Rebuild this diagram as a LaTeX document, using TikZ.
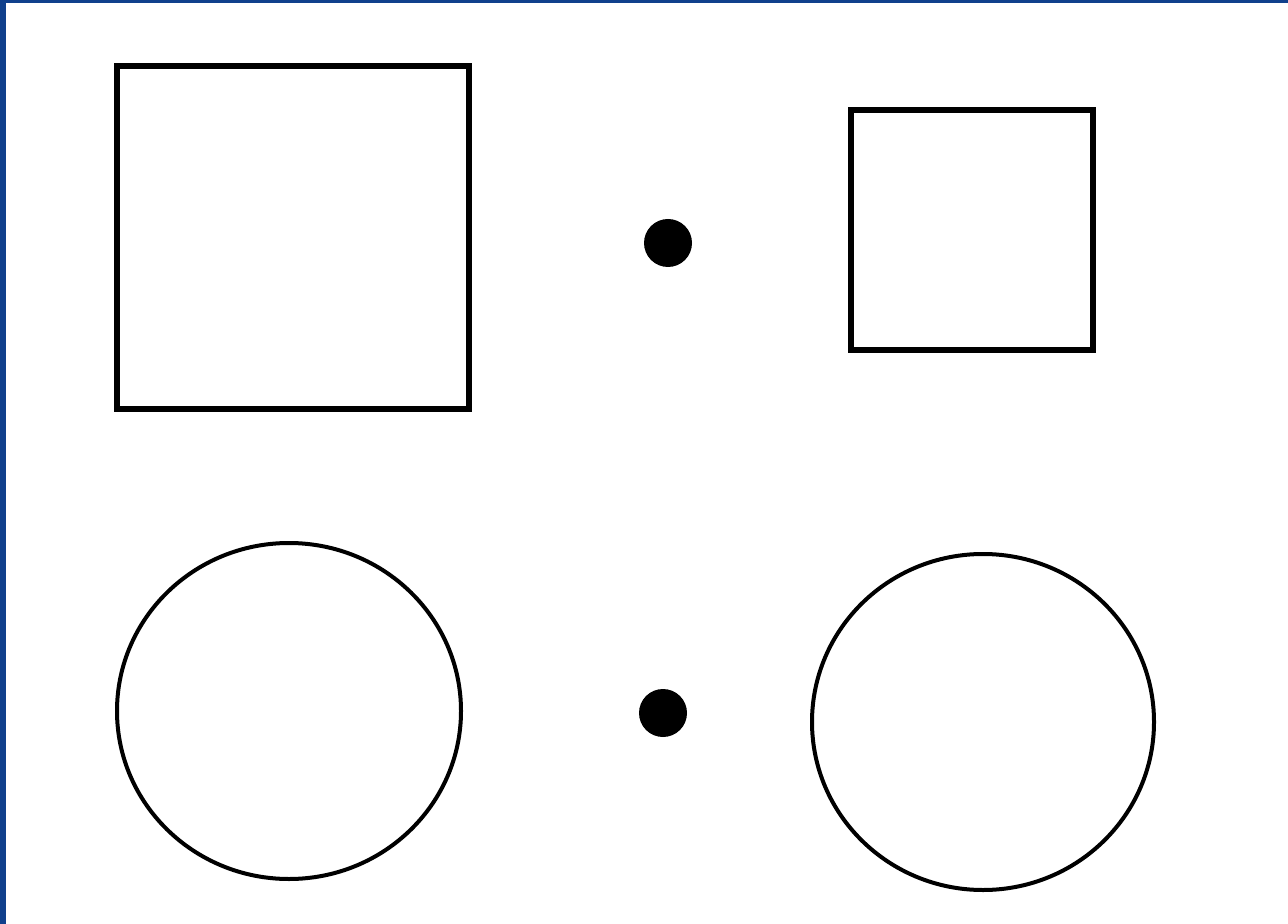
\documentclass[tikz,border=0pt]{standalone}
\definecolor{frameblue}{RGB}{16,64,140}
\tikzset{
  box/.style={draw=black, line width=3.3pt, fill=white},
  ring/.style={draw=black, line width=2pt, fill=white},
  spot/.style={circle, fill=black, inner sep=0pt, minimum size=24pt},
}
\begin{document}
\begin{tikzpicture}[x=0.5pt,y=-0.5pt]
\useasboundingbox (0,0) rectangle (1288,924);
\fill[frameblue] (0,0) rectangle (1288,924);
\fill[white] (6,3) rectangle (1288,924);
\draw[box] (117,66) rectangle (469,409);
\draw[box] (851,110) rectangle (1093,350);
\node[spot] (d1) at (668,243) {};
\node[spot] (d2) at (663,713) {};
\draw[ring] (289,711) ellipse [x radius=172, y radius=168];
\draw[ring] (983,722) ellipse [x radius=171, y radius=168];
\end{tikzpicture}
\end{document}
